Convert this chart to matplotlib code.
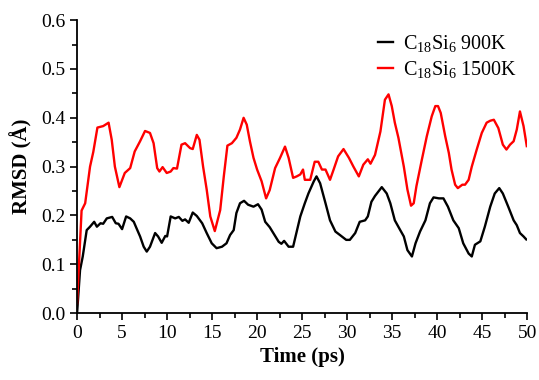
"""RMSD vs time for C18Si6 at two temperatures."""

import matplotlib
matplotlib.use("Agg")
import matplotlib.pyplot as plt
from matplotlib.ticker import MultipleLocator

# values
t_900 = [0.0, 0.33, 0.63, 1.07, 1.44, 1.9, 2.2, 2.6, 2.9, 3.3, 3.9, 4.3, 4.6, 5.0,
         5.45, 5.9, 6.3, 6.6, 7.0, 7.4, 7.74, 8.1, 8.67, 9.0, 9.4, 9.8, 10.0, 10.4,
         10.9, 11.3, 11.7, 12.0, 12.4, 12.85, 13.3, 13.9, 14.4, 14.96, 15.5, 16.1,
         16.6, 17.0, 17.4, 17.7, 18.1, 18.55, 19.0, 19.6, 20.1, 20.5, 20.9, 21.4,
         21.8, 22.4, 22.7, 23.0, 23.5, 24.0, 24.4, 24.8, 25.3, 25.7, 26.3, 26.6,
         27.0, 27.6, 28.1, 28.7, 29.2, 29.9, 30.3, 30.9, 31.4, 32.0, 32.3, 32.7,
         33.1, 33.85, 34.4, 34.8, 35.3, 35.9, 36.3, 36.7, 37.2, 37.6, 38.1, 38.7,
         39.2, 39.6, 40.2, 40.7, 41.2, 41.8, 42.4, 42.9, 43.5, 43.85, 44.2, 44.8,
         45.3, 45.9, 46.4, 46.9, 47.3, 47.9, 48.5, 48.85, 49.2, 49.6, 49.9]
rmsd_900 = [0.0, 0.088, 0.116, 0.17, 0.177, 0.187, 0.177, 0.184, 0.183, 0.194, 0.197,
            0.184, 0.183, 0.172, 0.198, 0.194, 0.187, 0.174, 0.157, 0.136, 0.126,
            0.136, 0.164, 0.157, 0.144, 0.158, 0.157, 0.198, 0.194, 0.197, 0.189,
            0.192, 0.185, 0.206, 0.199, 0.184, 0.164, 0.143, 0.133, 0.136, 0.143,
            0.16, 0.17, 0.205, 0.225, 0.23, 0.222, 0.218, 0.223, 0.212, 0.187, 0.176,
            0.164, 0.146, 0.142, 0.148, 0.136, 0.136, 0.167, 0.198, 0.225, 0.245,
            0.27, 0.28, 0.266, 0.225, 0.19, 0.167, 0.16, 0.15, 0.15, 0.164, 0.187,
            0.19, 0.198, 0.228, 0.24, 0.258, 0.245, 0.225, 0.19, 0.17, 0.157, 0.129,
            0.116, 0.143, 0.167, 0.19, 0.225, 0.237, 0.235, 0.235, 0.218, 0.19,
            0.174, 0.143, 0.122, 0.116, 0.14, 0.147, 0.177, 0.218, 0.245, 0.256,
            0.245, 0.218, 0.19, 0.18, 0.164, 0.157, 0.151]

t_1500 = [0.0, 0.5, 0.9, 1.44, 1.8, 2.26, 2.9, 3.5, 3.85, 4.2, 4.7, 5.3, 5.9, 6.4,
          7.0, 7.55, 8.1, 8.5, 8.9, 9.15, 9.5, 9.96, 10.4, 10.7, 11.1, 11.6, 12.0,
          12.55, 12.85, 13.3, 13.6, 14.0, 14.4, 14.8, 15.3, 15.9, 16.3, 16.7, 17.2,
          17.7, 18.1, 18.5, 18.85, 19.2, 19.6, 20.0, 20.5, 21.0, 21.4, 22.0, 22.55,
          23.1, 23.5, 24.0, 24.4, 24.8, 25.1, 25.3, 25.9, 26.4, 26.8, 27.2, 27.6,
          28.1, 28.5, 29.0, 29.6, 30.2, 30.7, 31.3, 31.8, 32.3, 32.6, 33.1, 33.7,
          34.2, 34.6, 34.96, 35.3, 35.7, 36.3, 36.7, 37.1, 37.4, 37.7, 38.3, 38.85,
          39.4, 39.8, 40.1, 40.4, 40.9, 41.3, 41.6, 42.0, 42.3, 42.8, 43.1, 43.5,
          43.85, 44.4, 44.96, 45.5, 45.9, 46.3, 46.8, 47.3, 47.7, 48.1, 48.5, 48.85,
          49.2, 49.6, 49.96]
rmsd_1500 = [0.02, 0.21, 0.225, 0.30, 0.33, 0.38, 0.383, 0.39, 0.355, 0.30, 0.258,
             0.287, 0.297, 0.331, 0.352, 0.373, 0.369, 0.348, 0.297, 0.29, 0.299,
             0.287, 0.29, 0.297, 0.296, 0.345, 0.348, 0.338, 0.336, 0.365, 0.355,
             0.30, 0.253, 0.198, 0.168, 0.211, 0.28, 0.343, 0.348, 0.359, 0.376,
             0.40, 0.386, 0.352, 0.318, 0.294, 0.27, 0.235, 0.252, 0.297, 0.318,
             0.341, 0.318, 0.277, 0.28, 0.284, 0.294, 0.273, 0.273, 0.31, 0.31,
             0.294, 0.294, 0.273, 0.294, 0.321, 0.336, 0.318, 0.30, 0.28, 0.304,
             0.315, 0.306, 0.324, 0.372, 0.437, 0.448, 0.424, 0.39, 0.359, 0.30,
             0.253, 0.22, 0.225, 0.26, 0.314, 0.362, 0.403, 0.424, 0.424, 0.41,
             0.362, 0.328, 0.294, 0.263, 0.256, 0.263, 0.263, 0.273, 0.30, 0.335,
             0.369, 0.39, 0.394, 0.396, 0.379, 0.345, 0.335, 0.345, 0.352, 0.376,
             0.413, 0.383, 0.342]

labels = [r"C$_{18}$Si$_{6}$ 900K", r"C$_{18}$Si$_{6}$ 1500K"]

plt.rcParams["font.family"] = ["Liberation Serif", "DejaVu Serif"]
plt.rcParams["mathtext.fontset"] = "custom"
plt.rcParams["mathtext.rm"] = "Liberation Serif"
plt.rcParams["mathtext.it"] = "Liberation Serif:italic"

fig = plt.figure(figsize=(5.39, 3.8), dpi=100)
ax = fig.add_axes([0.143, 0.176, 0.835, 0.771])

ax.plot(t_900, rmsd_900, color="black", lw=1.7, label=labels[0])
ax.plot(t_1500, rmsd_1500, color="red", lw=1.7, label=labels[1])

ax.set_xlim(0, 50)
ax.set_ylim(0, 0.6)
ax.xaxis.set_major_locator(MultipleLocator(5))
ax.xaxis.set_minor_locator(MultipleLocator(2.5))
ax.yaxis.set_major_locator(MultipleLocator(0.1))
ax.yaxis.set_minor_locator(MultipleLocator(0.05))
ax.yaxis.set_major_formatter(plt.FuncFormatter(lambda v, _: f"{v:.1f}"))
ax.tick_params(which="both", direction="out", width=1.2, labelsize=14)
ax.tick_params(which="major", length=5)
ax.tick_params(which="minor", length=3.5)

for side in ("top", "right"):
    ax.spines[side].set_visible(False)
for side in ("left", "bottom"):
    ax.spines[side].set_linewidth(1.3)

ax.set_xlabel("Time (ps)", fontsize=15, fontweight="bold", labelpad=4)
ax.set_ylabel("RMSD (Å)", fontsize=15, fontweight="bold", labelpad=6)

ax.legend(loc="upper left", bbox_to_anchor=(0.668, 0.955), frameon=False, fontsize=14.5,
          borderpad=0, borderaxespad=0, handlelength=0.75, handletextpad=0.5,
          labelspacing=0.25)

fig.savefig("out.png", dpi=100)
